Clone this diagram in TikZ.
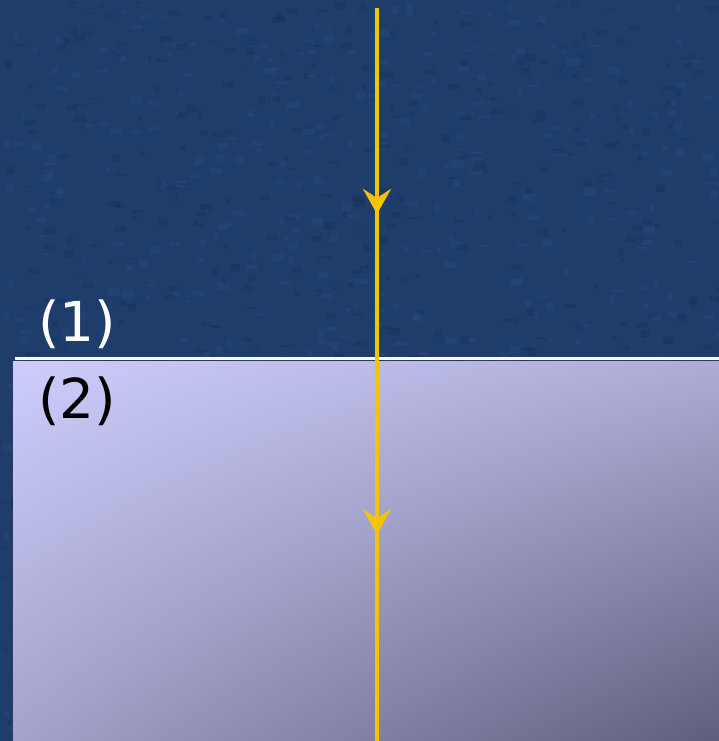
\documentclass[tikz,border=0pt]{standalone}
\usepackage{fontspec}
\setmainfont{DejaVu Sans}
\usetikzlibrary{arrows.meta,decorations.markings,shadings}
\definecolor{bgblue}{HTML}{1E3D6B}
\definecolor{bgdark}{HTML}{142D55}
\definecolor{bglight}{HTML}{2C5590}
\definecolor{ray}{HTML}{F5C400}
\definecolor{lavTL}{HTML}{CDCDFC}
\definecolor{lavBR}{HTML}{5E5E7C}
\tikzset{
  lbl/.style={font=\fontsize{55}{55}\selectfont, inner sep=0pt, anchor=center},
  raytip/.tip={Stealth[length=25pt,width=28pt,inset=9pt]},
  rayline/.style={draw=ray, line width=4.5pt,
    postaction={decorate, decoration={markings,
      mark=at position 0.281 with {\arrow[ray]{raytip}},
      mark=at position 0.718 with {\arrow[ray]{raytip}}}}}
}
\begin{document}
\begin{tikzpicture}[x=1pt,y=-1pt]
  \useasboundingbox (0,0) rectangle (719,741);
  % background
  \fill[bgblue] (0,0) rectangle (719,741);
  \pgfmathsetseed{7}
  \foreach \i in {1,...,700}{
    \pgfmathsetmacro{\px}{rnd*719}
    \pgfmathsetmacro{\py}{rnd*741}
    \pgfmathsetmacro{\pw}{3+rnd*10}
    \pgfmathsetmacro{\ph}{2+rnd*6}
    \fill[bglight, opacity=0.22] (\px,\py) rectangle ++(\pw,\ph);
  }
  \foreach \i in {1,...,600}{
    \pgfmathsetmacro{\px}{rnd*719}
    \pgfmathsetmacro{\py}{rnd*741}
    \pgfmathsetmacro{\pw}{3+rnd*10}
    \pgfmathsetmacro{\ph}{2+rnd*6}
    \fill[bgdark, opacity=0.3] (\px,\py) rectangle ++(\pw,\ph);
  }
  % medium (2)
  \shade[upper left=lavTL, upper right=lavTL!70!lavBR, lower left=lavTL!62!lavBR, lower right=lavBR]
    (13,361) rectangle (719,741);
  % interface
  \draw[white, line width=3pt] (15,358) -- (719,358);
  % labels
  \node[lbl, text=white] (m1) at (77,324) {(1)};
  \node[lbl, text=black] (m2) at (77,401) {(2)};
  % ray
  \coordinate (rtop) at (377,8);
  \coordinate (rbot) at (377,741);
  \path[rayline] (rtop) -- (rbot);
\end{tikzpicture}
\end{document}
